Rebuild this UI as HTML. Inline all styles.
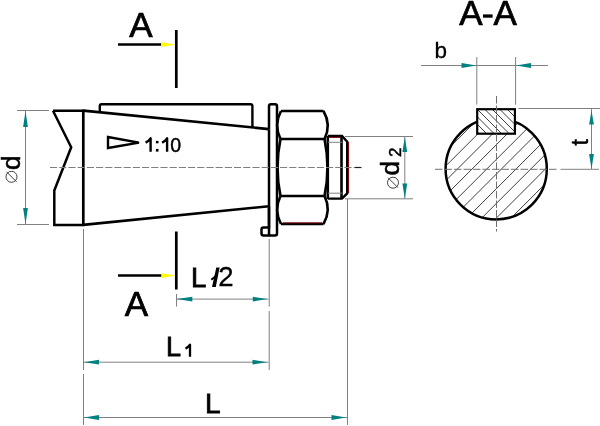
<!DOCTYPE html>
<html><head><meta charset="utf-8"><style>
html,body{margin:0;padding:0;background:#fff;width:600px;height:426px;overflow:hidden}
svg{display:block;will-change:transform}
text{font-family:"Liberation Sans",sans-serif}
</style></head><body>
<svg width="600" height="426" viewBox="0 0 600 426">
<rect width="600" height="426" fill="#fff"/>
<text x="129.2" y="36.9" font-size="35" fill="#000" stroke="#000" stroke-width="0.7" >A</text>
<line x1="118" y1="44.5" x2="161" y2="44.5" stroke="#000" stroke-width="2.6" />
<polygon points="161,42.3 161,47 176,44.5" fill="#ffff00"/>
<line x1="176.3" y1="30" x2="176.3" y2="88" stroke="#000" stroke-width="2.7" />
<text x="124.7" y="316" font-size="35" fill="#000" stroke="#000" stroke-width="0.7" >A</text>
<line x1="118" y1="275.5" x2="161.5" y2="275.5" stroke="#000" stroke-width="2.6" />
<polygon points="161.5,273.3 161.5,278 176,275.5" fill="#ffff00"/>
<line x1="176.3" y1="231.5" x2="176.3" y2="289.5" stroke="#000" stroke-width="2.7" />
<path d="M53,110.8 L83.3,110.8 M53,110.8 L71.2,147.2 L54.3,190.6 L54.3,224.9 L83.3,224.9" fill="none" stroke="#000" stroke-width="2.5" stroke-linejoin="miter"/>
<line x1="83.3" y1="109.5" x2="83.3" y2="226.1" stroke="#000" stroke-width="2.7" />
<line x1="83.3" y1="110.6" x2="269" y2="129.1" stroke="#000" stroke-width="2.6" />
<line x1="83.3" y1="224.9" x2="269" y2="206.2" stroke="#000" stroke-width="2.6" />
<path d="M99.8,111.6 L99.8,106 Q99.8,104.3 101.5,104.3 L250.5,104.3 Q252.4,104.3 252.4,106 L252.4,127.6" fill="none" stroke="#000" stroke-width="2.4"/>
<polygon points="108,137 139,142.6 108,148" fill="none" stroke="#000" stroke-width="2.4" stroke-linejoin="miter"/>
<path d="M145.6,142.6 Q148.8,141 150.6,138.3 L150.6,151.8 M162.1,142.6 Q165.3,141 167.1,138.3 L167.1,151.8" fill="none" stroke="#000" stroke-width="2.4" stroke-linejoin="round"/>
<rect x="155.9" y="140.9" width="2.6" height="2.4" fill="#000"/><rect x="155.9" y="148.9" width="2.6" height="2.7" fill="#000"/>
<text x="170.3" y="151.8" font-size="19.5" fill="#000" stroke="#000" stroke-width="0.45" >0</text>
<path d="M269,206 L269,227.6 L263.5,227.6 Q261.5,227.6 261.5,229.6 L261.5,233.5 Q261.5,235.5 263.5,235.5 L275,235.5 Q277,235.5 277,233.5 L277,106.3 Q277,104.3 275,104.3 L271,104.3 Q269,104.3 269,106.3 L269,129.5" fill="none" stroke="#000" stroke-width="2.5"/>
<line x1="269" y1="129.5" x2="269" y2="235.5" stroke="#000" stroke-width="2.5" />
<path d="M281,111 L323.5,111 M281,111 Q273.5,125 280.5,139 M323.5,111 Q331.5,125 324.5,139 M280.5,139 L324.5,139 M280.5,139 Q274.5,167.5 280.5,196 M324.5,139 Q330.5,167.5 324.5,196 M280.5,196 L324.5,196 M280.5,196 Q273.5,210 281,224 M324.5,196 Q331.5,210 323.5,224 M281,224 L323.5,224" fill="none" stroke="#000" stroke-width="2.6"/>
<line x1="327.8" y1="136" x2="327.8" y2="199" stroke="#000" stroke-width="2.6" />
<path d="M327.8,136 L342,136 L347.2,141.6 L347.2,193.4 L342,198.6 L327.8,198.6" fill="none" stroke="#000" stroke-width="2.4"/>
<line x1="348.5" y1="142" x2="348.5" y2="193" stroke="#8b0000" stroke-width="1" />
<line x1="341.5" y1="136" x2="341.5" y2="198.6" stroke="#000" stroke-width="2.6" />
<line x1="329" y1="137.4" x2="340" y2="137.4" stroke="#8b0000" stroke-width="1" />
<line x1="283" y1="222.9" x2="322" y2="222.9" stroke="#7a0000" stroke-width="1" />
<line x1="328" y1="142.3" x2="342" y2="142.3" stroke="#808080" stroke-width="1" />
<line x1="328" y1="193.2" x2="342" y2="193.2" stroke="#808080" stroke-width="1" />
<line x1="50" y1="167.5" x2="356" y2="167.5" stroke="#808080" stroke-width="1" stroke-dasharray="7.2,2"/>
<line x1="355" y1="167.5" x2="361.5" y2="167.5" stroke="#202020" stroke-width="1.2" />
<line x1="17" y1="110.5" x2="49" y2="110.5" stroke="#808080" stroke-width="1" />
<line x1="17" y1="224.5" x2="49" y2="224.5" stroke="#808080" stroke-width="1" />
<line x1="25.5" y1="111" x2="25.5" y2="224" stroke="#808080" stroke-width="1" />
<polygon points="25.5,111 27.90,127.00 23.10,127.00" fill="#008080"/>
<polygon points="25.5,224 23.10,208.00 27.90,208.00" fill="#008080"/>
<text transform="translate(20.3,170) rotate(-90)" font-size="26" fill="#000" stroke="#000" stroke-width="0.5">d</text>
<circle cx="11.5" cy="176.8" r="5.5" fill="none" stroke="#404040" stroke-width="1"/>
<line x1="6.55" y1="171.85" x2="16.45" y2="181.75" stroke="#404040" stroke-width="1"/>
<line x1="345" y1="136.5" x2="413" y2="136.5" stroke="#808080" stroke-width="1" />
<line x1="345" y1="198.8" x2="413" y2="198.8" stroke="#808080" stroke-width="1" />
<line x1="404.8" y1="137" x2="404.8" y2="198.5" stroke="#808080" stroke-width="1" />
<polygon points="404.8,137 407.20,152.00 402.40,152.00" fill="#008080"/>
<polygon points="404.8,198.5 402.40,183.50 407.20,183.50" fill="#008080"/>
<text transform="translate(399,175.5) rotate(-90)" font-size="26" fill="#000" stroke="#000" stroke-width="0.5">d</text>
<text transform="translate(400.5,157) rotate(-90)" font-size="17" fill="#000" stroke="#000" stroke-width="0.5">2</text>
<circle cx="393" cy="182.7" r="5.5" fill="none" stroke="#404040" stroke-width="1"/>
<line x1="388.05" y1="177.75" x2="397.95" y2="187.65" stroke="#404040" stroke-width="1"/>
<line x1="83.5" y1="229" x2="83.5" y2="370" stroke="#808080" stroke-width="1" />
<line x1="83.5" y1="374" x2="83.5" y2="425" stroke="#808080" stroke-width="1" />
<line x1="269.2" y1="239" x2="269.2" y2="306.7" stroke="#808080" stroke-width="1" />
<line x1="269.2" y1="311" x2="269.2" y2="370" stroke="#808080" stroke-width="1" />
<line x1="347.5" y1="199" x2="347.5" y2="425" stroke="#808080" stroke-width="1" />
<line x1="176.5" y1="294" x2="176.5" y2="306.5" stroke="#808080" stroke-width="1" />
<line x1="176.5" y1="299.1" x2="268.5" y2="299.1" stroke="#808080" stroke-width="1" />
<polygon points="176.8,299.1 192.30,296.70 192.30,301.50" fill="#008080"/>
<polygon points="267.3,299.1 252.80,301.50 252.80,296.70" fill="#008080"/>
<text x="190.9" y="286.5" font-size="27.6" fill="#000" stroke="#000" stroke-width="0.8" >L</text>
<polygon points="216.3,267.5 219.6,267.5 215.8,287 212,287" fill="#000"/>
<line x1="211.3" y1="279.8" x2="216.5" y2="275.5" stroke="#000" stroke-width="2" />
<text x="218.3" y="286.4" font-size="27.6" fill="#000" stroke="#000" stroke-width="0.3" >2</text>
<line x1="83.5" y1="362.2" x2="268.5" y2="362.2" stroke="#808080" stroke-width="1" />
<polygon points="84,362.2 99.00,359.80 99.00,364.60" fill="#008080"/>
<polygon points="267,362.2 252.50,364.60 252.50,359.80" fill="#008080"/>
<text x="166.1" y="355.8" font-size="27" fill="#000" stroke="#000" stroke-width="0.8" >L</text>
<path d="M185.5,348.6 Q188.3,347.2 190,344.7 L190,356.8" fill="none" stroke="#000" stroke-width="2.3" stroke-linejoin="round"/>
<line x1="83.5" y1="417.5" x2="347" y2="417.5" stroke="#808080" stroke-width="1" />
<polygon points="84,417.5 99.00,415.10 99.00,419.90" fill="#008080"/>
<polygon points="346,417.5 331.50,419.90 331.50,415.10" fill="#008080"/>
<text x="205" y="413" font-size="28" fill="#000" stroke="#000" stroke-width="0.8" >L</text>
<text x="459.3" y="25" font-size="35" fill="#000" stroke="#000" stroke-width="0.7" >A</text>
<rect x="483" y="14.4" width="9.6" height="3.3" fill="#000"/>
<text x="493.5" y="25" font-size="35" fill="#000" stroke="#000" stroke-width="0.7" >A</text>
<text x="434.5" y="58.2" font-size="22.5" fill="#000" stroke="#000" stroke-width="0.3" >b</text>
<line x1="421" y1="65.5" x2="548" y2="65.5" stroke="#808080" stroke-width="1" />
<polygon points="476.5,65.5 461.50,68.00 461.50,63.00" fill="#008080"/>
<polygon points="516,65.5 531.00,63.00 531.00,68.00" fill="#008080"/>
<line x1="476.8" y1="57" x2="476.8" y2="104.7" stroke="#808080" stroke-width="1" />
<line x1="515.6" y1="57" x2="515.6" y2="104.7" stroke="#808080" stroke-width="1" />
<defs><clipPath id="cc"><circle cx="496.2" cy="168.8" r="50.6"/></clipPath><clipPath id="kc"><rect x="477.2" y="109.2" width="37.69999999999999" height="24.499999999999986"/></clipPath></defs>
<path d="M430,79.04 L570,-60.96 M430,93.71 L570,-46.29 M430,108.38 L570,-31.62 M430,123.05 L570,-16.95 M430,137.72 L570,-2.28 M430,152.39 L570,12.39 M430,167.06 L570,27.06 M430,181.73 L570,41.73 M430,196.40 L570,56.40 M430,211.07 L570,71.07 M430,225.74 L570,85.74 M430,240.41 L570,100.41 M430,255.08 L570,115.08 M430,269.75 L570,129.75 M430,284.42 L570,144.42 M430,299.09 L570,159.09" stroke="#282828" stroke-width="0.9" clip-path="url(#cc)"/>
<circle cx="496.2" cy="168.8" r="50.6" fill="none" stroke="#000" stroke-width="2.5"/>
<rect x="477.2" y="109.2" width="37.69999999999999" height="24.499999999999986" fill="#fff"/>
<path d="M470,57.00 L520,107.00 M470,64.50 L520,114.50 M470,72.00 L520,122.00 M470,79.50 L520,129.50 M470,87.00 L520,137.00 M470,94.50 L520,144.50 M470,102.00 L520,152.00 M470,109.50 L520,159.50 M470,117.00 L520,167.00 M470,124.50 L520,174.50 M470,132.00 L520,182.00 M470,139.50 L520,189.50 M470,147.00 L520,197.00 M470,154.50 L520,204.50" stroke="#282828" stroke-width="0.9" clip-path="url(#kc)"/>
<rect x="477.2" y="109.2" width="37.69999999999999" height="24.499999999999986" fill="none" stroke="#000" stroke-width="2.2"/>
<line x1="435" y1="169.3" x2="557" y2="169.3" stroke="#707070" stroke-width="1" stroke-dasharray="7.5,2"/>
<line x1="496.5" y1="96" x2="496.5" y2="231.5" stroke="#707070" stroke-width="1" stroke-dasharray="7.5,2"/>
<line x1="518.5" y1="108.5" x2="600" y2="108.5" stroke="#808080" stroke-width="1" />
<line x1="560.5" y1="169.3" x2="599" y2="169.3" stroke="#808080" stroke-width="1" />
<line x1="591.5" y1="109" x2="591.5" y2="169" stroke="#808080" stroke-width="1" />
<polygon points="591.5,110.5 593.90,124.50 589.10,124.50" fill="#008080"/>
<polygon points="591.5,169 589.10,154.00 593.90,154.00" fill="#008080"/>
<text transform="translate(587.9,145.5) rotate(-90)" font-size="23" fill="#000" stroke="#000" stroke-width="0.5">t</text>
</svg></body></html>
